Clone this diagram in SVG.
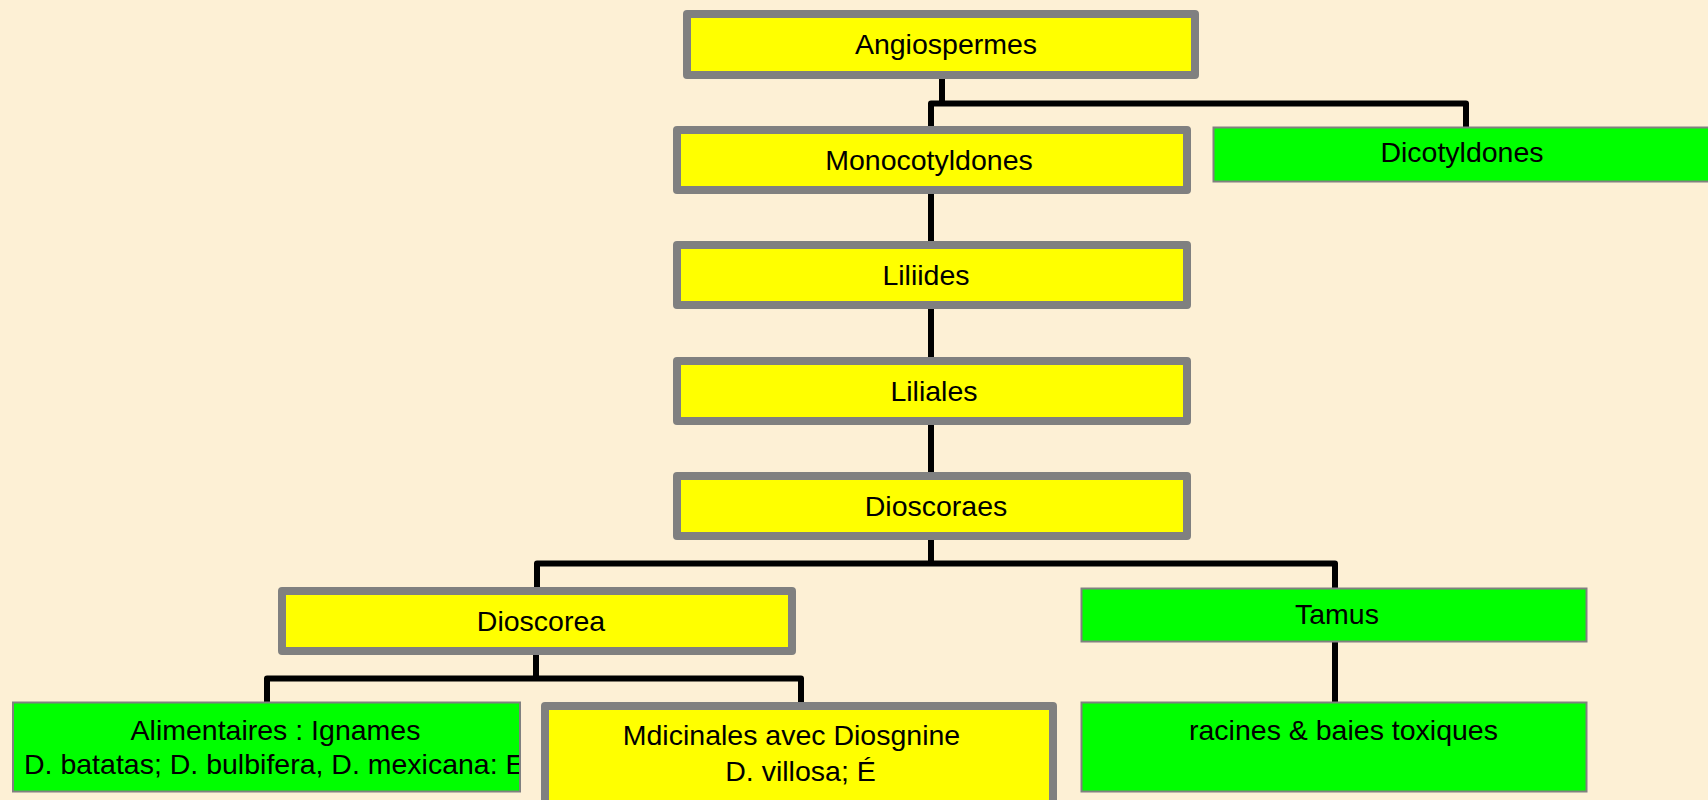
<svg xmlns="http://www.w3.org/2000/svg" width="1708" height="800" viewBox="0 0 1708 800">
<defs>
<style>
.thick{fill:#ffff00;stroke:#808080;stroke-width:8;stroke-linejoin:round}
.thin{fill:#00ff00;stroke:#808080;stroke-width:2}
.lbl{font-family:"Liberation Sans",Arial,sans-serif;font-size:28.5px;fill:#000;text-anchor:middle}
.lbs{font-family:"Liberation Sans",Arial,sans-serif;font-size:28.5px;fill:#000}
.con{fill:none;stroke:#000;stroke-width:6;stroke-linejoin:round}
</style>
<clipPath id="clipAli"><rect x="14" y="703" width="505" height="88"/></clipPath>
</defs>
<rect x="0" y="0" width="1708" height="800" fill="#fdf0d5"/>
<g id="connectors">
<path class="con" d="M942,79 V103.5"/>
<path class="con" d="M931,126 V103.5 H1466 V127"/>
<path class="con" d="M931,194 V241"/>
<path class="con" d="M931,309 V357"/>
<path class="con" d="M931,425 V472"/>
<path class="con" d="M931,540 V563.5"/>
<path class="con" d="M537,587 V563.5 H1335 V588"/>
<path class="con" d="M536,655 V678.5"/>
<path class="con" d="M267,702 V678.5 H801 V702"/>
<path class="con" d="M1335,642 V702"/>
</g>
<g id="angiospermes">
<rect class="thick" x="687" y="14" width="508" height="61"/>
<text class="lbl" x="946" y="53.5">Angiospermes</text>
</g>
<g id="monocotyldones">
<rect class="thick" x="677" y="130" width="510" height="60"/>
<text class="lbl" x="929" y="170">Monocotyldones</text>
</g>
<g id="dicotyldones">
<rect class="thin" x="1213.5" y="127.5" width="497" height="54"/>
<text class="lbl" x="1462" y="162">Dicotyldones</text>
</g>
<g id="liliides">
<rect class="thick" x="677" y="245" width="510" height="60"/>
<text class="lbl" x="926" y="285">Liliides</text>
</g>
<g id="liliales">
<rect class="thick" x="677" y="361" width="510" height="60"/>
<text class="lbl" x="934" y="401">Liliales</text>
</g>
<g id="dioscoraes">
<rect class="thick" x="677" y="476" width="510" height="60"/>
<text class="lbl" x="936" y="516">Dioscoraes</text>
</g>
<g id="dioscorea">
<rect class="thick" x="282" y="591" width="510" height="60"/>
<text class="lbl" x="541" y="631">Dioscorea</text>
</g>
<g id="tamus">
<rect class="thin" x="1081.5" y="588.5" width="505" height="53"/>
<text class="lbl" x="1337" y="623.5">Tamus</text>
</g>
<g id="alimentaires">
<rect class="thin" x="13" y="702.5" width="507" height="89"/>
<text class="lbl" x="275.5" y="740">Alimentaires : Ignames</text>
<text class="lbs" x="24" y="773.5" clip-path="url(#clipAli)">D. batatas; D. bulbifera, D. mexicana: E</text>
</g>
<g id="medicinales">
<rect class="thick" x="545" y="706" width="508" height="110"/>
<text class="lbl" x="791.5" y="745">Mdicinales avec Diosgnine</text>
<text class="lbl" x="800.5" y="781">D. villosa; É</text>
</g>
<g id="racines">
<rect class="thin" x="1081.5" y="702.5" width="505" height="89"/>
<text class="lbl" x="1343.5" y="740">racines &amp; baies toxiques</text>
</g>
</svg>
